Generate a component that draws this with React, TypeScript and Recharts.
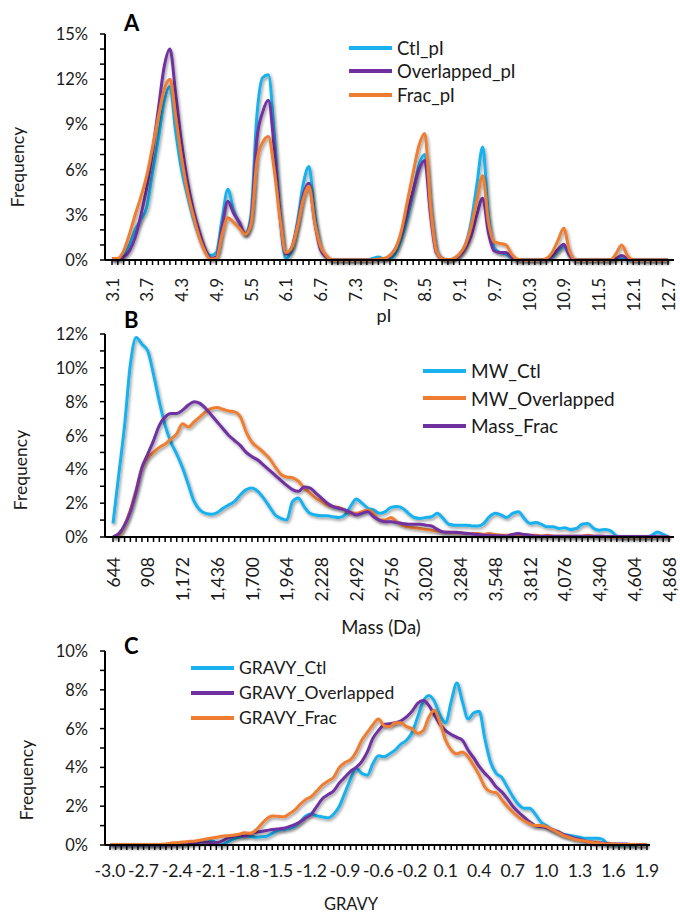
import React from 'react';
import { LineChart, Line, XAxis, YAxis, Legend } from 'recharts';

const FONT = 'Lato, "Noto Sans", sans-serif';
const INK = '#1a1a1a';
const BLUE = '#19B1EE';
const PURPLE = '#7030A0';
const ORANGE = '#EF7D31';

// ---- panel A: pI distribution (3.1 .. 12.7, step 0.1)
const PI_BINS = Array.from({ length: 97 }, (_, i) => (3.1 + i * 0.1).toFixed(1));
const PI_TICKS = ['3.1', '3.7', '4.3', '4.9', '5.5', '6.1', '6.7', '7.3', '7.9', '8.5', '9.1', '9.7', '10.3', '10.9', '11.5', '12.1', '12.7'];
const CTL_PI = [
  0.1, 0.1, 0.3, 1.0, 2.0, 2.7, 3.5, 5.8, 8.0, 10.5,
  11.5, 8.5, 6.0, 4.3, 2.8, 1.6, 0.7, 0.3, 0.5, 2.7,
  4.7, 3.3, 2.4, 1.7, 3.0, 9.5, 12.1, 12.3, 8.5, 3.0,
  0.1, 0.6, 2.5, 5.0, 6.2, 3.0, 0.8, 0.2, 0, 0,
  0, 0, 0, 0, 0, 0.1, 0.2, 0.05, 0.1, 0.5,
  1.5, 2.8, 4.5, 6.3, 7.0, 3.3, 0.6, 0.1, 0, 0.1,
  0.4, 1.0, 2.5, 5.0, 7.5, 3.0, 0.8, 0.5, 0.4, 0.1,
  0, 0, 0, 0, 0, 0.05, 0.2, 0.6, 0.9, 0.3,
  0, 0, 0, 0, 0, 0, 0, 0.05, 0.1, 0.02,
  0, 0, 0, 0, 0, 0, 0,
];
const OVL_PI = [
  0, 0, 0.2, 0.6, 1.5, 3.0, 4.8, 7.2, 10.0, 12.8,
  14.0, 11.0, 7.8, 5.3, 3.4, 2.0, 0.8, 0.1, 0.2, 2.2,
  3.9, 3.1, 2.5, 1.7, 2.6, 8.0, 9.8, 10.6, 7.5, 3.0,
  0.4, 0.8, 2.3, 4.3, 5.1, 2.5, 0.7, 0.2, 0, 0,
  0, 0, 0, 0, 0, 0, 0.05, 0.05, 0.3, 0.8,
  1.8, 3.2, 4.6, 6.0, 6.6, 3.0, 0.5, 0.1, 0, 0.05,
  0.3, 0.8, 1.6, 3.0, 4.1, 1.8, 0.6, 0.5, 0.5, 0.2,
  0, 0, 0, 0, 0, 0.05, 0.3, 0.7, 1.05, 0.3,
  0, 0, 0, 0, 0, 0, 0, 0.1, 0.3, 0.1,
  0, 0, 0, 0, 0, 0, 0,
];
const FRAC_PI = [
  0.1, 0.1, 0.6, 1.7, 3.0, 4.2, 5.6, 7.5, 9.5, 11.3,
  12.0, 9.5, 6.8, 4.6, 3.0, 1.6, 0.6, 0.05, 0.1, 1.7,
  2.8, 2.5, 2.1, 1.7, 2.4, 6.5, 7.8, 8.2, 6.0, 2.8,
  0.5, 0.8, 2.2, 4.0, 4.9, 2.5, 0.9, 0.3, 0, 0,
  0, 0, 0, 0, 0, 0, 0.05, 0.1, 0.3, 0.8,
  2.0, 3.9, 5.8, 7.6, 8.4, 3.5, 0.6, 0.1, 0, 0.1,
  0.4, 1.0, 2.2, 4.0, 5.6, 2.5, 1.2, 1.1, 1.0, 0.4,
  0.05, 0, 0, 0, 0, 0.1, 0.5, 1.3, 2.1, 0.6,
  0, 0, 0, 0, 0, 0, 0, 0.4, 1.0, 0.3,
  0, 0, 0, 0, 0, 0, 0,
];

// ---- panel B: mass distribution (644 .. 4868 Da, step 44)
const MASS_BINS = Array.from({ length: 97 }, (_, i) => String(644 + i * 44));
const MASS_TICKS = ['644', '908', '1,172', '1,436', '1,700', '1,964', '2,228', '2,492', '2,756', '3,020', '3,284', '3,548', '3,812', '4,076', '4,340', '4,604', '4,868'];
const MW_CTL = [
  0.8, 3.7, 6.6, 10.2, 11.8, 11.4, 11.0, 9.6, 8.0, 6.6,
  5.6, 4.9, 4.1, 3.1, 2.1, 1.6, 1.4, 1.35, 1.45, 1.7,
  1.9, 2.1, 2.5, 2.8, 2.9, 2.7, 2.3, 1.8, 1.3, 1.1,
  1.0, 2.1, 2.3, 1.8, 1.4, 1.3, 1.25, 1.25, 1.2, 1.15,
  1.3, 1.8, 2.25, 2.0, 1.7, 1.6, 1.4, 1.5, 1.75, 1.8,
  1.7, 1.4, 1.15, 1.1, 1.15, 1.2, 1.4, 1.1, 0.75, 0.7,
  0.7, 0.7, 0.65, 0.65, 0.8, 1.2, 1.4, 1.3, 1.15, 1.4,
  1.5, 1.1, 0.8, 0.85, 0.75, 0.6, 0.6, 0.5, 0.55, 0.45,
  0.5, 0.75, 0.8, 0.5, 0.4, 0.45, 0.35, 0.05, 0, 0,
  0, 0, 0, 0.1, 0.3, 0.15, 0,
];
const MW_OVL = [
  0, 0.1, 0.7, 1.6, 2.8, 4.1, 4.7, 5.0, 5.3, 5.5,
  5.8, 6.1, 6.7, 6.5, 6.8, 7.1, 7.4, 7.6, 7.65, 7.55,
  7.45, 7.4, 7.1, 6.2, 5.6, 5.3, 5.0, 4.65, 4.15, 3.7,
  3.55, 3.5, 3.3, 2.9, 2.6, 2.3, 2.1, 1.9, 1.8, 1.75,
  1.6, 1.45, 1.4, 1.5, 1.6, 1.4, 1.0, 1.0, 1.15, 0.9,
  0.7, 0.6, 0.55, 0.5, 0.45, 0.4, 0.35, 0.3, 0.28, 0.25,
  0.25, 0.2, 0.2, 0.2, 0.15, 0.2, 0.15, 0.1, 0.1, 0.15,
  0.15, 0.1, 0.1, 0.1, 0.05, 0.1, 0.05, 0.05, 0.05, 0.05,
  0.05, 0.05, 0.1, 0.05, 0.05, 0, 0, 0, 0, 0,
  0, 0, 0, 0, 0, 0, 0,
];
const MASS_FRAC = [
  0, 0.2, 0.7, 1.5, 2.7, 4.1, 4.9, 5.7, 6.6, 7.1,
  7.3, 7.3, 7.5, 7.8, 8.0, 7.9, 7.6, 7.2, 6.8, 6.4,
  6.0, 5.7, 5.4, 5.0, 4.75, 4.55, 4.25, 3.95, 3.65, 3.35,
  3.05, 2.8, 2.7, 2.95, 2.9, 2.6, 2.3, 2.0, 1.8, 1.7,
  1.6, 1.45, 1.3, 1.4, 1.5, 1.2, 1.0, 0.9, 0.9, 0.85,
  0.8, 0.75, 0.75, 0.75, 0.7, 0.65, 0.45, 0.3, 0.28, 0.28,
  0.25, 0.22, 0.18, 0.15, 0.1, 0.1, 0.08, 0.08, 0.05, 0.15,
  0.2, 0.15, 0.1, 0.05, 0.05, 0.05, 0.05, 0.05, 0.05, 0.05,
  0.05, 0.05, 0.05, 0.05, 0.05, 0.03, 0.03, 0.03, 0.03, 0.03,
  0.03, 0.03, 0.03, 0.03, 0.02, 0.02, 0.02,
];

// ---- panel C: GRAVY distribution (-2.95 .. 1.85, step 0.05)
const GRAVY_BINS = Array.from({ length: 97 }, (_, i) => (-2.95 + i * 0.05).toFixed(2));
const GRAVY_TICKS = ['-3.0', '-2.7', '-2.4', '-2.1', '-1.8', '-1.5', '-1.2', '-0.9', '-0.6', '-0.2', '0.1', '0.4', '0.7', '1.0', '1.3', '1.6', '1.9'];
const GRAVY_CTL = [
  0, 0, 0, 0, 0, 0, 0, 0, 0, 0,
  0.02, 0.05, 0.05, 0.05, 0.1, 0.1, 0.15, 0.2, 0.25, 0.1,
  0, 0.15, 0.3, 0.4, 0.45, 0.45, 0.4, 0.42, 0.45, 0.6,
  0.75, 0.8, 0.85, 0.95, 1.2, 1.5, 1.6, 1.5, 1.45, 1.4,
  1.6, 2.0, 2.7, 3.4, 3.95, 3.7, 3.6, 4.2, 4.6, 4.55,
  4.7, 4.9, 5.2, 5.4, 5.8, 6.6, 7.4, 7.7, 7.4, 6.7,
  6.3, 7.4, 8.35, 7.4, 6.5, 6.8, 6.9, 5.5, 4.3, 3.7,
  3.5, 3.0, 2.5, 2.1, 1.9, 1.9, 1.6, 1.2, 1.0, 0.8,
  0.65, 0.55, 0.5, 0.45, 0.4, 0.35, 0.35, 0.35, 0.3, 0.05,
  0, 0, 0, 0, 0, 0, 0,
];
const GRAVY_OVL = [
  0, 0, 0, 0, 0, 0, 0, 0, 0, 0,
  0, 0, 0, 0.02, 0.05, 0.1, 0.15, 0.15, 0.12, 0.12,
  0.2, 0.35, 0.45, 0.5, 0.46, 0.57, 0.65, 0.7, 0.75, 0.8,
  0.82, 0.86, 0.95, 1.05, 1.2, 1.4, 1.6, 2.0, 2.4, 2.6,
  2.8, 3.2, 3.5, 3.8, 4.0, 4.3, 4.8, 5.5, 5.9, 6.2,
  6.25, 6.3, 6.4, 6.6, 6.9, 7.3, 7.45, 7.2, 6.7, 6.2,
  5.9, 5.7, 5.55, 5.4, 4.9, 4.5, 4.05, 3.7, 3.4, 3.0,
  2.75, 2.4, 2.0, 1.7, 1.45, 1.2, 1.0, 0.95, 0.9, 0.8,
  0.7, 0.55, 0.45, 0.35, 0.3, 0.2, 0.15, 0.12, 0.1, 0.08,
  0.05, 0.05, 0.05, 0.03, 0.02, 0.02, 0.01,
];
const GRAVY_FRAC = [
  0.02, 0.02, 0.02, 0.02, 0.02, 0.02, 0.02, 0.02, 0.02, 0.03,
  0.05, 0.1, 0.12, 0.15, 0.18, 0.2, 0.25, 0.3, 0.35, 0.4,
  0.45, 0.48, 0.5, 0.55, 0.63, 0.6, 0.75, 1.05, 1.35, 1.5,
  1.48, 1.45, 1.6, 1.8, 2.1, 2.35, 2.5, 2.8, 3.1, 3.3,
  3.5, 4.0, 4.25, 4.4, 4.8, 5.4, 5.8, 6.2, 6.5, 6.15,
  6.1, 6.3, 6.3, 6.1, 6.0, 5.75, 5.9, 6.6, 6.95, 6.3,
  5.4, 4.9, 4.7, 4.8, 4.55, 4.1, 3.6, 3.0, 2.75, 2.7,
  2.35, 2.0, 1.7, 1.45, 1.25, 1.1, 1.0, 1.0, 0.95, 0.8,
  0.65, 0.5, 0.4, 0.3, 0.25, 0.2, 0.15, 0.1, 0.08, 0.05,
  0.05, 0.03, 0.02, 0.02, 0.02, 0.01, 0.01,
];

const Y_TICKS_A = Array.from({ length: 16 }, (_, i) => i);
const Y_TICKS_B = Array.from({ length: 13 }, (_, i) => i);
const Y_TICKS_C = Array.from({ length: 11 }, (_, i) => i);

const dataA = PI_BINS.map((bin, i) => ({ bin, ctl: CTL_PI[i], ovl: OVL_PI[i], frac: FRAC_PI[i] }));
const dataB = MASS_BINS.map((bin, i) => ({ bin, ctl: MW_CTL[i], ovl: MW_OVL[i], frac: MASS_FRAC[i] }));
const dataC = GRAVY_BINS.map((bin, i) => ({ bin, ctl: GRAVY_CTL[i], ovl: GRAVY_OVL[i], frac: GRAVY_FRAC[i] }));

const axisLine = { stroke: '#000', strokeWidth: 2 };
const tickLine = { stroke: '#000', strokeWidth: 1.5 };

function YTick({ x, y, payload, step }: any) {
  if (payload.value % step !== 0) return null;
  return (
    <text x={x} y={y} textAnchor="end" dominantBaseline="central" fontFamily={FONT} fontSize={16.5} fill={INK}>
      {payload.value}%
    </text>
  );
}

function XTickRot({ x, y, index, labels, size }: any) {
  if (index % 6 !== 0) return null;
  return (
    <text x={x} y={y} transform={`rotate(-90, ${x}, ${y})`} textAnchor="end" dominantBaseline="central"
      fontFamily={FONT} fontSize={size} fill={INK}>
      {labels[index / 6]}
    </text>
  );
}

function XTickFlat({ x, y, index, labels }: any) {
  if (index % 6 !== 0) return null;
  return (
    <text x={x} y={y} textAnchor="middle" dominantBaseline="central" fontFamily={FONT} fontSize={17.5} fill={INK}>
      {labels[index / 6]}
    </text>
  );
}

function fixedText(x: number, y: number, text: string, size: number, rotate = false) {
  return () => (
    <text x={x} y={y} textAnchor="middle" dominantBaseline="central" fontFamily={FONT} fontSize={size} fill={INK}
      transform={rotate ? `rotate(-90, ${x}, ${y})` : undefined}>
      {text}
    </text>
  );
}

function legendContent(items: { name: string; color: string }[], fontSize: number, rowH: number) {
  return () => (
    <div style={{ fontFamily: FONT, fontSize, color: INK, lineHeight: 1 }}>
      {items.map((it) => (
        <div key={it.name} style={{ display: 'flex', alignItems: 'center', height: rowH, whiteSpace: 'nowrap' }}>
          <span style={{ display: 'inline-block', width: 43, height: 4, background: it.color, marginRight: 5 }} />
          <span>{it.name}</span>
        </div>
      ))}
    </div>
  );
}

function Shadow({ id }: { id: string }) {
  return (
    <defs>
      <filter id={id} x="-5%" y="-10%" width="110%" height="130%">
        <feDropShadow dx="1.2" dy="1.8" stdDeviation="1.8" floodColor="#000" floodOpacity="0.42" />
      </filter>
    </defs>
  );
}

const letter = (top: number): React.CSSProperties => ({
  position: 'absolute', left: 124, top, fontFamily: FONT, fontWeight: 700, fontSize: 22, color: '#000', lineHeight: 1,
});

export default function App() {
  const lineProps = { type: 'monotone' as const, dot: false, strokeWidth: 3, isAnimationActive: false, activeDot: false };
  return (
    <div style={{ position: 'absolute', left: 0, top: 0, width: 680, height: 915, background: '#fff', overflow: 'hidden' }}>
      {/* Panel A */}
      <div style={{ position: 'absolute', left: 0, top: 0 }}>
        <LineChart width={680} height={330} data={dataA} margin={{ top: 34, right: 6, bottom: 0, left: 0 }}>
          <Shadow id="shA" />
          <XAxis dataKey="bin" interval={0} height={70} padding={{ left: 7, right: 6 }} axisLine={axisLine}
            tickLine={tickLine} tickSize={5} tickMargin={13}
            tick={(p: any) => <XTickRot {...p} labels={PI_TICKS} size={17} />}
            label={{ content: fixedText(384, 315, 'pI', 18) }} />
          <YAxis width={105} domain={[0, 15]} ticks={Y_TICKS_A} interval={0} axisLine={axisLine} tickLine={tickLine}
            tickSize={5} tickMargin={12} tick={(p: any) => <YTick {...p} step={3} />}
            label={{ content: fixedText(17, 167, 'Frequency', 17.5, true) }} />
          <Legend layout="vertical" align="center" verticalAlign="middle"
            wrapperStyle={{ left: 349, top: 36, width: 'auto' }}
            content={legendContent([{ name: 'Ctl_pI', color: BLUE }, { name: 'Overlapped_pI', color: PURPLE }, { name: 'Frac_pI', color: ORANGE }], 18.5, 23.5)} />
          <Line dataKey="ctl" name="Ctl_pI" stroke={BLUE} filter="url(#shA)" {...lineProps} />
          <Line dataKey="ovl" name="Overlapped_pI" stroke={PURPLE} filter="url(#shA)" {...lineProps} />
          <Line dataKey="frac" name="Frac_pI" stroke={ORANGE} filter="url(#shA)" {...lineProps} />
        </LineChart>
      </div>

      {/* Panel B */}
      <div style={{ position: 'absolute', left: 0, top: 300 }}>
        <LineChart width={680} height={340} data={dataB} margin={{ top: 34, right: 6, bottom: 0, left: 0 }}>
          <Shadow id="shB" />
          <XAxis dataKey="bin" interval={0} height={103} padding={{ left: 8, right: 5 }} axisLine={axisLine}
            tickLine={tickLine} tickSize={5} tickMargin={15}
            tick={(p: any) => <XTickRot {...p} labels={MASS_TICKS} size={17.5} />}
            label={{ content: fixedText(381, 327, 'Mass (Da)', 18.5) }} />
          <YAxis width={105} domain={[0, 12]} ticks={Y_TICKS_B} interval={0} axisLine={axisLine} tickLine={tickLine}
            tickSize={5} tickMargin={12} tick={(p: any) => <YTick {...p} step={2} />}
            label={{ content: fixedText(20, 170, 'Frequency', 17.5, true) }} />
          <Legend layout="vertical" align="center" verticalAlign="middle"
            wrapperStyle={{ left: 423, top: 57, width: 'auto' }}
            content={legendContent([{ name: 'MW_Ctl', color: BLUE }, { name: 'MW_Overlapped', color: ORANGE }, { name: 'Mass_Frac', color: PURPLE }], 19, 27.5)} />
          <Line dataKey="ctl" name="MW_Ctl" stroke={BLUE} filter="url(#shB)" {...lineProps} />
          <Line dataKey="ovl" name="MW_Overlapped" stroke={ORANGE} filter="url(#shB)" {...lineProps} />
          <Line dataKey="frac" name="Mass_Frac" stroke={PURPLE} filter="url(#shB)" {...lineProps} />
        </LineChart>
      </div>

      {/* Panel C */}
      <div style={{ position: 'absolute', left: 0, top: 620 }}>
        <LineChart width={680} height={295} data={dataC} margin={{ top: 31, right: 30, bottom: 0, left: 0 }}>
          <Shadow id="shC" />
          <XAxis dataKey="bin" interval={0} height={70} padding={{ left: 5, right: 3 }} axisLine={axisLine}
            tickLine={tickLine} tickSize={5} tickMargin={20}
            tick={(p: any) => <XTickFlat {...p} labels={GRAVY_TICKS} />}
            label={{ content: fixedText(351, 284, 'GRAVY', 16.5) }} />
          <YAxis width={105} domain={[0, 10]} ticks={Y_TICKS_C} interval={0} axisLine={axisLine} tickLine={tickLine}
            tickSize={5} tickMargin={12} tick={(p: any) => <YTick {...p} step={2} />}
            label={{ content: fixedText(26, 160, 'Frequency', 17.5, true) }} />
          <Legend layout="vertical" align="center" verticalAlign="middle"
            wrapperStyle={{ left: 191, top: 35, width: 'auto' }}
            content={legendContent([{ name: 'GRAVY_Ctl', color: BLUE }, { name: 'GRAVY_Overlapped', color: PURPLE }, { name: 'GRAVY_Frac', color: ORANGE }], 17.5, 25)} />
          <Line dataKey="ctl" name="GRAVY_Ctl" stroke={BLUE} filter="url(#shC)" {...lineProps} />
          <Line dataKey="ovl" name="GRAVY_Overlapped" stroke={PURPLE} filter="url(#shC)" {...lineProps} />
          <Line dataKey="frac" name="GRAVY_Frac" stroke={ORANGE} filter="url(#shC)" {...lineProps} />
        </LineChart>
      </div>

      <div style={letter(12)}>A</div>
      <div style={letter(309)}>B</div>
      <div style={letter(635)}>C</div>
    </div>
  );
}
